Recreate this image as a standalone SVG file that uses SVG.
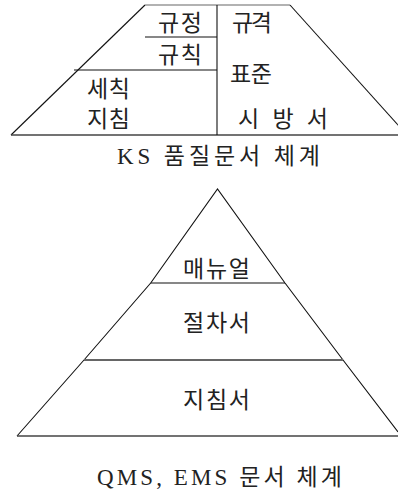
<svg xmlns="http://www.w3.org/2000/svg" width="398" height="492" viewBox="0 0 398 492">
<style>
.ln{stroke:#111;stroke-width:1.1;fill:none}
.gl{stroke:#666;stroke-width:1.8;fill:none}
.bl{stroke:#444;stroke-width:1.5;fill:none}
text{font-family:"Liberation Serif","Noto Sans CJK KR",serif;font-size:23px;fill:#222}
</style>
<rect width="398" height="492" fill="#fff"/>
<g id="ks">
<line class="ln" x1="145" y1="5" x2="11" y2="135"/>
<line class="gl" x1="145" y1="5" x2="290" y2="5" style="stroke-width:1.2"/>
<line class="ln" x1="290" y1="5" x2="407" y2="135"/>
<line class="bl" x1="11" y1="135" x2="398" y2="135"/>
<line class="ln" x1="217" y1="5" x2="217" y2="135"/>
<line class="ln" x1="145" y1="37" x2="217" y2="37"/>
<line class="ln" x1="74" y1="70" x2="217" y2="70"/>
<text x="158" y="31" textLength="44">규정</text>
<text x="232" y="31" textLength="40">규격</text>
<text x="158" y="63" textLength="44">규칙</text>
<text x="230" y="82" textLength="42">표준</text>
<text x="87" y="97" textLength="43">세칙</text>
<text x="87" y="127" textLength="43">지침</text>
<text x="238" y="127" textLength="90">시 방 서</text>
<text x="117" y="164" textLength="203">KS 품질문서 체계</text>
</g>
<g id="qms">
<polyline class="ln" points="17,436 84,360 150.7,283 217.5,189 285,283 343,360 398,432"/>
<line class="ln" x1="150.7" y1="283" x2="285" y2="283"/>
<line class="gl" x1="84" y1="360" x2="343" y2="360"/>
<line class="bl" x1="17" y1="436" x2="398" y2="436"/>
<text x="183" y="277" textLength="67">매뉴얼</text>
<text x="183" y="331" textLength="67">절차서</text>
<text x="183" y="408" textLength="67">지침서</text>
<text x="97" y="485" textLength="245">QMS, EMS 문서 체계</text>
</g>
</svg>
